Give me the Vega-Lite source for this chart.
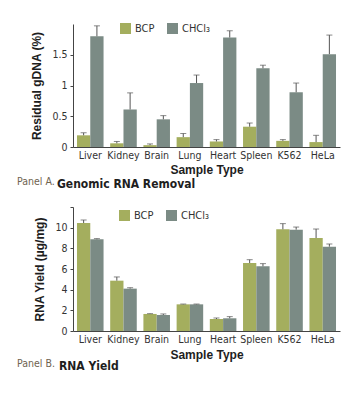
{
  "$schema": "https://vega.github.io/schema/vega-lite/v6.json",
  "background": "white",
  "padding": {"left": 17, "top": 23, "right": 5, "bottom": 5},
  "datasets": {
    "gdna": [
      {"sample": "Liver", "method": "BCP", "value": 0.19, "err": 0.23},
      {"sample": "Liver", "method": "CHCl₃", "value": 1.80, "err": 1.97},
      {"sample": "Kidney", "method": "BCP", "value": 0.06, "err": 0.09},
      {"sample": "Kidney", "method": "CHCl₃", "value": 0.61, "err": 0.88},
      {"sample": "Brain", "method": "BCP", "value": 0.03, "err": 0.05},
      {"sample": "Brain", "method": "CHCl₃", "value": 0.45, "err": 0.51},
      {"sample": "Lung", "method": "BCP", "value": 0.16, "err": 0.22},
      {"sample": "Lung", "method": "CHCl₃", "value": 1.04, "err": 1.17},
      {"sample": "Heart", "method": "BCP", "value": 0.09, "err": 0.12},
      {"sample": "Heart", "method": "CHCl₃", "value": 1.78, "err": 1.89},
      {"sample": "Spleen", "method": "BCP", "value": 0.33, "err": 0.39},
      {"sample": "Spleen", "method": "CHCl₃", "value": 1.28, "err": 1.33},
      {"sample": "K562", "method": "BCP", "value": 0.10, "err": 0.12},
      {"sample": "K562", "method": "CHCl₃", "value": 0.89, "err": 1.04},
      {"sample": "HeLa", "method": "BCP", "value": 0.08, "err": 0.19},
      {"sample": "HeLa", "method": "CHCl₃", "value": 1.51, "err": 1.82}
    ],
    "yield": [
      {"sample": "Liver", "method": "BCP", "value": 10.45, "err": 10.74},
      {"sample": "Liver", "method": "CHCl₃", "value": 8.87, "err": 8.94},
      {"sample": "Kidney", "method": "BCP", "value": 4.87, "err": 5.23},
      {"sample": "Kidney", "method": "CHCl₃", "value": 4.10, "err": 4.19},
      {"sample": "Brain", "method": "BCP", "value": 1.65, "err": 1.68},
      {"sample": "Brain", "method": "CHCl₃", "value": 1.55, "err": 1.65},
      {"sample": "Lung", "method": "BCP", "value": 2.58, "err": 2.61},
      {"sample": "Lung", "method": "CHCl₃", "value": 2.58, "err": 2.61},
      {"sample": "Heart", "method": "BCP", "value": 1.16, "err": 1.26},
      {"sample": "Heart", "method": "CHCl₃", "value": 1.23, "err": 1.39},
      {"sample": "Spleen", "method": "BCP", "value": 6.58, "err": 6.90},
      {"sample": "Spleen", "method": "CHCl₃", "value": 6.26, "err": 6.52},
      {"sample": "K562", "method": "BCP", "value": 9.84, "err": 10.39},
      {"sample": "K562", "method": "CHCl₃", "value": 9.81, "err": 10.06},
      {"sample": "HeLa", "method": "BCP", "value": 9.00, "err": 9.87},
      {"sample": "HeLa", "method": "CHCl₃", "value": 8.16, "err": 8.42}
    ]
  },
  "config": {
    "view": {"stroke": null},
    "concat": {"spacing": 12},
    "axis": {
      "grid": false,
      "labelFont": "DejaVu Sans Condensed, Liberation Sans, sans-serif",
      "labelFontSize": 10.5,
      "labelColor": "#333333",
      "labelOverlap": false,
      "titleFont": "Liberation Sans",
      "titleFontSize": 12,
      "titleFontWeight": "bold",
      "titleColor": "#1e1e1e",
      "domainColor": "#444444",
      "tickColor": "#444444"
    },
    "legend": {
      "orient": "none",
      "direction": "horizontal",
      "title": null,
      "symbolType": "square",
      "symbolSize": 121,
      "symbolStrokeWidth": 0,
      "symbolOpacity": 1,
      "labelFont": "DejaVu Sans Condensed, Liberation Sans, sans-serif",
      "labelFontSize": 11,
      "labelColor": "#333333",
      "labelOffset": 4,
      "columnPadding": 12
    }
  },
  "resolve": {"scale": {"y": "independent", "color": "independent"}, "legend": {"color": "independent"}},
  "vconcat": [
    {
      "title": {"text": "Panel A.", "orient": "bottom", "anchor": "start", "frame": "group", "dx": -56, "dy": -17, "font": "DejaVu Sans Condensed, Liberation Sans, sans-serif", "fontSize": 10.5, "fontWeight": "normal", "color": "#6f6350"},
      "resolve": {"scale": {"color": "independent"}, "legend": {"color": "independent"}},
      "vconcat": [
        {
          "width": 267,
          "height": 123,
          "title": {"text": "Genomic RNA Removal", "orient": "bottom", "anchor": "start", "frame": "group", "dx": -16, "offset": 3, "font": "DejaVu Sans Condensed, Liberation Sans, sans-serif", "fontSize": 12, "fontWeight": "bold", "color": "#1e1e1e"},
          "data": {"name": "gdna"},
          "encoding": {
            "x": {"field": "sample", "type": "nominal", "sort": ["Liver", "Kidney", "Brain", "Lung", "Heart", "Spleen", "K562", "HeLa"], "scale": {"paddingInner": 0.2, "paddingOuter": 0.12}, "axis": {"title": "Sample Type", "labelAngle": 0, "ticks": false, "labelPadding": 3, "titlePadding": 4}},
            "xOffset": {"field": "method", "type": "nominal", "sort": ["BCP", "CHCl₃"]}
          },
          "layer": [
            {
              "mark": {"type": "bar"},
              "encoding": {
                "y": {"field": "value", "type": "quantitative", "scale": {"domain": [0, 2]}, "axis": {"title": "Residual gDNA (%)", "values": [0, 0.5, 1, 1.5], "format": "~g", "labelOverlap": false, "tickSize": 3, "labelPadding": 3, "titlePadding": 8}},
                "color": {"field": "method", "type": "nominal", "scale": {"domain": ["BCP", "CHCl₃"], "range": ["#a4ae5e", "#7b8b85"]}, "legend": {"legendX": 47, "legendY": -1}}
              }
            },
            {
              "mark": {"type": "rule", "color": "#555555", "strokeWidth": 1},
              "encoding": {"y": {"field": "value", "type": "quantitative"}, "y2": {"field": "err"}}
            },
            {
              "mark": {"type": "tick", "color": "#555555", "size": 6, "thickness": 1},
              "encoding": {"y": {"field": "err", "type": "quantitative"}}
            }
          ]
        }
      ]
    },
    {
      "title": {"text": "Panel B.", "orient": "bottom", "anchor": "start", "frame": "group", "dx": -56, "dy": -17, "font": "DejaVu Sans Condensed, Liberation Sans, sans-serif", "fontSize": 10.5, "fontWeight": "normal", "color": "#6f6350"},
      "resolve": {"scale": {"color": "independent"}, "legend": {"color": "independent"}},
      "vconcat": [
        {
          "width": 267,
          "height": 124,
          "title": {"text": "RNA Yield", "orient": "bottom", "anchor": "start", "frame": "group", "dx": -14, "offset": 0, "font": "DejaVu Sans Condensed, Liberation Sans, sans-serif", "fontSize": 12, "fontWeight": "bold", "color": "#1e1e1e"},
          "data": {"name": "yield"},
          "encoding": {
            "x": {"field": "sample", "type": "nominal", "sort": ["Liver", "Kidney", "Brain", "Lung", "Heart", "Spleen", "K562", "HeLa"], "scale": {"paddingInner": 0.2, "paddingOuter": 0.12}, "axis": {"title": "Sample Type", "labelAngle": 0, "ticks": false, "labelPadding": 3, "titlePadding": 5}},
            "xOffset": {"field": "method", "type": "nominal", "sort": ["BCP", "CHCl₃"]}
          },
          "layer": [
            {
              "mark": {"type": "bar"},
              "encoding": {
                "y": {"field": "value", "type": "quantitative", "scale": {"domain": [0, 12], "nice": false}, "axis": {"title": "RNA Yield (µg/mg)", "tickCount": 6, "labelExpr": "datum.value >= 11 ? '' : datum.label", "labelOverlap": false, "tickSize": 3, "labelPadding": 3, "titlePadding": 8}},
                "color": {"field": "method", "type": "nominal", "scale": {"domain": ["BCP", "CHCl₃"], "range": ["#a4ae5e", "#7b8b85"]}, "legend": {"legendX": 46, "legendY": 3}}
              }
            },
            {
              "mark": {"type": "rule", "color": "#555555", "strokeWidth": 1},
              "encoding": {"y": {"field": "value", "type": "quantitative"}, "y2": {"field": "err"}}
            },
            {
              "mark": {"type": "tick", "color": "#555555", "size": 6, "thickness": 1},
              "encoding": {"y": {"field": "err", "type": "quantitative"}}
            }
          ]
        }
      ]
    }
  ]
}
